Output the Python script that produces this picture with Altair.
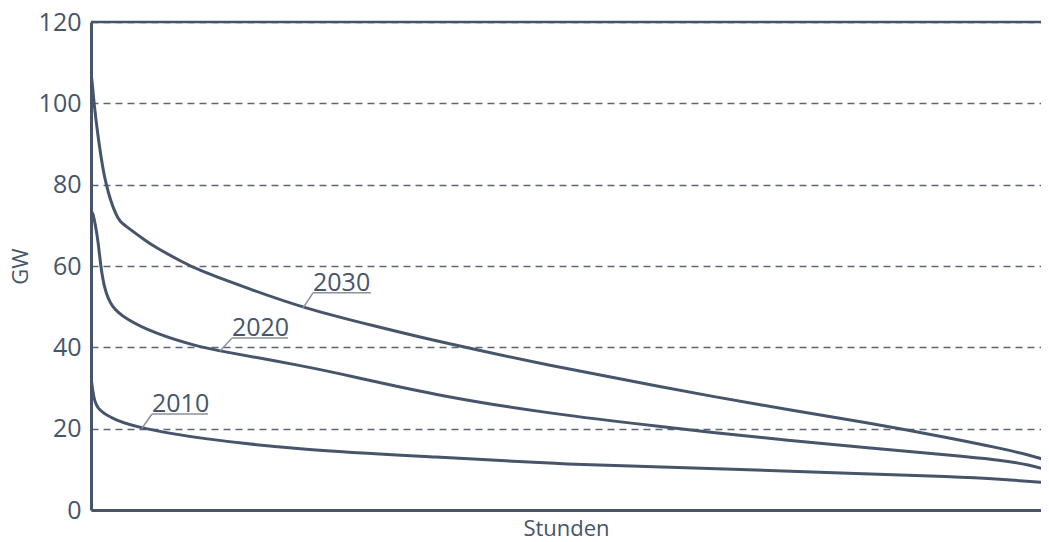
import altair as alt
import pandas as pd

# Load duration curves (hours of year vs. GW)
hours_2010 = [0, 27, 64, 217, 460, 978, 1911, 3191, 4261, 5203, 7123, 7855, 8312, 8760]
gw_2010 = [32.6, 27.0, 24.6, 22.1, 20.1, 17.6, 14.8, 13.0, 11.3, 10.6, 8.9, 8.2, 7.6, 6.7]

hours_2020 = [0, 18, 37, 64, 89, 125, 186, 308, 582, 978, 1180, 1911, 2368, 3191, 4197, 5203, 6117, 7123, 7855, 8312, 8586, 8760]
gw_2020 = [73.6, 73.0, 70.5, 66.4, 59.8, 54.1, 50.0, 47.1, 43.4, 40.2, 39.1, 35.6, 33.0, 28.0, 23.7, 20.5, 17.8, 15.2, 13.5, 12.3, 11.1, 9.7]

hours_2030 = [0, 9, 27, 64, 110, 140, 174, 229, 265, 308, 491, 582, 814, 978, 1454, 1939, 2597, 3191, 4197, 5203, 6117, 7123, 7855, 8312, 8586, 8760]
gw_2030 = [107.0, 106.0, 100.0, 91.8, 83.6, 80.0, 76.5, 72.5, 71.0, 70.0, 66.4, 64.7, 61.3, 59.0, 54.3, 49.7, 45.2, 41.3, 35.5, 30.3, 25.8, 21.4, 17.7, 15.2, 13.5, 12.0]

# Label annotations (data coordinates)
label_years = ["2010", "2020", "2030"]
label_curve_hours = [466, 1180, 1939]
label_curve_gw = [20.1, 39.1, 49.7]
label_hours = [558, 1289, 2030]
label_gw = [23.6, 42.3, 53.4]
label_end_hours = [1070, 1801, 2560]

y_ticks = [0, 20, 40, 60, 80, 100, 120]
x_visible_hours = 8687  # part of the year visible in the frame

rows = []
for yr, hs, vs in [("2010", hours_2010, gw_2010), ("2020", hours_2020, gw_2020), ("2030", hours_2030, gw_2030)]:
    for h, v in zip(hs, vs):
        rows.append({"year": yr, "hours": h, "gw": v})
df = pd.DataFrame(rows)

lab = pd.DataFrame({
    "year": label_years,
    "ch": label_curve_hours,
    "cg": label_curve_gw,
    "lh": label_hours,
    "lg": label_gw,
    "eh": label_end_hours,
})

DARK = "#46556a"
GRID = "#5c6678"
LIGHT = "#8a929e"
FONT = "Open Sans"

xscale = alt.Scale(domain=[0, x_visible_hours], nice=False, zero=False)
yscale = alt.Scale(domain=[0, 120], nice=False)

lines = alt.Chart(df).mark_line(color=DARK, strokeWidth=3, interpolate="basis", clip=True).encode(
    x=alt.X("hours:Q", scale=xscale, axis=alt.Axis(
        title="Stunden", labels=False, ticks=False, grid=False,
        domainColor=DARK, domainWidth=3, titleFont=FONT, titleFontSize=22,
        titleFontWeight="normal", titleColor=DARK, titlePadding=8)),
    y=alt.Y("gw:Q", scale=yscale, axis=alt.Axis(
        title="GW", values=y_ticks, ticks=False, tickSize=0, grid=True,
        gridDash=[7, 5], gridColor=GRID, gridWidth=1.5,
        domainColor=DARK, domainWidth=3, labelFont=FONT, labelFontSize=25,
        labelColor=DARK, labelPadding=10, titleFont=FONT, titleFontSize=22,
        titleFontWeight="normal", titleColor=DARK, titlePadding=6)),
    detail="year:N",
)

border = alt.Chart(pd.DataFrame({"gw": [120]})).mark_rule(color=DARK, strokeWidth=2.5).encode(
    y=alt.Y("gw:Q", scale=yscale)
)

leaders = alt.Chart(lab).mark_rule(color=LIGHT, strokeWidth=1.5).encode(
    x=alt.X("ch:Q", scale=xscale), y=alt.Y("cg:Q", scale=yscale),
    x2="lh:Q", y2="lg:Q",
)

underlines = alt.Chart(lab).mark_rule(color=LIGHT, strokeWidth=1.5).encode(
    x=alt.X("lh:Q", scale=xscale), x2="eh:Q", y=alt.Y("lg:Q", scale=yscale),
)

texts = alt.Chart(lab).mark_text(align="left", baseline="alphabetic", dy=-2,
                                 fontSize=25, font=FONT, color=DARK).encode(
    x=alt.X("lh:Q", scale=xscale), y=alt.Y("lg:Q", scale=yscale), text="year:N",
)

chart = alt.layer(lines, border, leaders, underlines, texts).properties(
    width=950, height=488,
    padding={"left": 83, "top": 14, "right": 0, "bottom": 32},
    autosize=alt.AutoSizeParams(type="none"),
).configure_view(stroke=None).configure_axis(labelFontWeight="normal")

chart.save("out.html", embed_options={"renderer": "svg", "actions": False})
